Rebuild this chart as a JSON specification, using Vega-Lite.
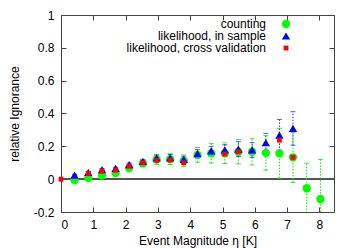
{
  "$schema": "https://vega.github.io/schema/vega-lite/v6.json",
  "width": 273,
  "height": 197,
  "autosize": "none",
  "padding": {"left": 61, "top": 15, "right": 20, "bottom": 36},
  "background": "white",
  "config": {
    "font": "Liberation Sans",
    "view": {"stroke": null},
    "axis": {
      "grid": false,
      "domainColor": "#444",
      "tickColor": "#444",
      "tickSize": -5,
      "labelFontSize": 12,
      "labelColor": "#000",
      "titleFontSize": 12,
      "titleFontWeight": "normal",
      "titleColor": "#000",
      "labelPadding": 12
    },
    "legend": {
      "labelFontSize": 12,
      "labelColor": "#000",
      "labelAlign": "right",
      "labelOffset": -26,
      "padding": 0,
      "rowPadding": 0,
      "symbolStrokeWidth": 0
    }
  },
  "data": {
    "values": [
      {"s": "counting", "x": 0.42, "y": -0.005, "lo": -0.009, "hi": -0.001},
      {"s": "counting", "x": 0.845, "y": 0.007, "lo": 0.001, "hi": 0.013},
      {"s": "counting", "x": 1.27, "y": 0.024, "lo": 0.014, "hi": 0.034},
      {"s": "counting", "x": 1.69, "y": 0.037, "lo": 0.024, "hi": 0.05},
      {"s": "counting", "x": 2.11, "y": 0.068, "lo": 0.05, "hi": 0.086},
      {"s": "counting", "x": 2.535, "y": 0.097, "lo": 0.075, "hi": 0.119},
      {"s": "counting", "x": 2.96, "y": 0.12, "lo": 0.09, "hi": 0.15},
      {"s": "counting", "x": 3.38, "y": 0.122, "lo": 0.089, "hi": 0.155},
      {"s": "counting", "x": 3.8, "y": 0.113, "lo": 0.078, "hi": 0.148},
      {"s": "counting", "x": 4.225, "y": 0.148, "lo": 0.103, "hi": 0.193},
      {"s": "counting", "x": 4.65, "y": 0.158, "lo": 0.098, "hi": 0.218},
      {"s": "counting", "x": 5.07, "y": 0.158, "lo": 0.095, "hi": 0.221},
      {"s": "counting", "x": 5.49, "y": 0.167, "lo": 0.093, "hi": 0.241},
      {"s": "counting", "x": 5.915, "y": 0.167, "lo": 0.087, "hi": 0.247},
      {"s": "counting", "x": 6.34, "y": 0.16, "lo": 0.055, "hi": 0.265},
      {"s": "counting", "x": 6.76, "y": 0.158, "lo": 0.006, "hi": 0.31},
      {"s": "counting", "x": 7.18, "y": 0.133, "lo": -0.02, "hi": 0.286},
      {"s": "counting", "x": 7.605, "y": -0.055, "lo": -0.207, "hi": 0.097},
      {"s": "counting", "x": 8.03, "y": -0.121, "lo": -0.363, "hi": 0.121},
      {"s": "likelihood, in sample", "x": 0.42, "y": 0.025, "lo": 0.021, "hi": 0.029},
      {"s": "likelihood, in sample", "x": 0.845, "y": 0.042, "lo": 0.037, "hi": 0.047},
      {"s": "likelihood, in sample", "x": 1.27, "y": 0.058, "lo": 0.052, "hi": 0.064},
      {"s": "likelihood, in sample", "x": 1.69, "y": 0.065, "lo": 0.057, "hi": 0.073},
      {"s": "likelihood, in sample", "x": 2.11, "y": 0.088, "lo": 0.078, "hi": 0.098},
      {"s": "likelihood, in sample", "x": 2.535, "y": 0.108, "lo": 0.096, "hi": 0.12},
      {"s": "likelihood, in sample", "x": 2.96, "y": 0.13, "lo": 0.114, "hi": 0.146},
      {"s": "likelihood, in sample", "x": 3.38, "y": 0.13, "lo": 0.11, "hi": 0.15},
      {"s": "likelihood, in sample", "x": 3.8, "y": 0.12, "lo": 0.1, "hi": 0.14},
      {"s": "likelihood, in sample", "x": 4.225, "y": 0.155, "lo": 0.13, "hi": 0.18},
      {"s": "likelihood, in sample", "x": 4.65, "y": 0.172, "lo": 0.144, "hi": 0.2},
      {"s": "likelihood, in sample", "x": 5.07, "y": 0.178, "lo": 0.146, "hi": 0.21},
      {"s": "likelihood, in sample", "x": 5.49, "y": 0.183, "lo": 0.138, "hi": 0.228},
      {"s": "likelihood, in sample", "x": 5.915, "y": 0.178, "lo": 0.133, "hi": 0.223},
      {"s": "likelihood, in sample", "x": 6.34, "y": 0.222, "lo": 0.165, "hi": 0.279},
      {"s": "likelihood, in sample", "x": 6.76, "y": 0.268, "lo": 0.172, "hi": 0.364},
      {"s": "likelihood, in sample", "x": 7.18, "y": 0.309, "lo": 0.207, "hi": 0.411},
      {"s": "likelihood, cross validation", "x": 0, "y": 0},
      {"s": "likelihood, cross validation", "x": 0.845, "y": 0.035},
      {"s": "likelihood, cross validation", "x": 1.27, "y": 0.05},
      {"s": "likelihood, cross validation", "x": 1.69, "y": 0.055},
      {"s": "likelihood, cross validation", "x": 2.11, "y": 0.08},
      {"s": "likelihood, cross validation", "x": 2.535, "y": 0.1},
      {"s": "likelihood, cross validation", "x": 2.96, "y": 0.115},
      {"s": "likelihood, cross validation", "x": 3.38, "y": 0.117},
      {"s": "likelihood, cross validation", "x": 3.8, "y": 0.1},
      {"s": "likelihood, cross validation", "x": 5.07, "y": 0.153},
      {"s": "likelihood, cross validation", "x": 5.49, "y": 0.167},
      {"s": "likelihood, cross validation", "x": 6.76, "y": 0.238},
      {"s": "likelihood, cross validation", "x": 7.18, "y": 0.133}
    ]
  },
  "resolve": {"axis": {"x": "independent", "y": "independent"}},
  "layer": [
    {
      "mark": {"type": "rule", "color": "#555", "strokeWidth": 1},
      "encoding": {
        "y": {"datum": 0, "type": "quantitative", "scale": {"domain": [-0.2, 1], "nice": false, "zero": false},
              "axis": {"orient": "left", "title": "relative Ignorance", "values": [-0.2, 0, 0.2, 0.4, 0.6, 0.8, 1],
                       "format": "~g", "labelExpr": "replace(datum.label, '\u2212', '-')", "titlePadding": 12}}
      }
    },
    {
      "transform": [{"filter": "isValid(datum.lo)"}],
      "mark": {"type": "rule", "strokeWidth": 1, "strokeDash": [1.5, 1.5], "clip": true},
      "encoding": {
        "x": {"field": "x", "type": "quantitative", "scale": {"domain": [0, 8.45], "nice": false, "zero": false},
              "axis": {"orient": "bottom", "title": "Event Magnitude η [K]", "values": [0, 1, 2, 3, 4, 5, 6, 7, 8], "titlePadding": 5}},
        "y": {"field": "lo", "type": "quantitative", "axis": null},
        "y2": {"field": "hi"},
        "color": {"condition": {"test": "datum.s === 'counting'", "value": "#00ee00"}, "value": "#3030ff"}
      }
    },
    {
      "transform": [{"filter": "isValid(datum.lo)"}],
      "mark": {"type": "tick", "orient": "horizontal", "size": 5, "thickness": 1, "clip": true, "opacity": 0.8},
      "encoding": {
        "x": {"field": "x", "type": "quantitative", "axis": null},
        "y": {"field": "lo", "type": "quantitative", "axis": null},
        "color": {"condition": {"test": "datum.s === 'counting'", "value": "#00ee00"}, "value": "#3030ff"}
      }
    },
    {
      "transform": [{"filter": "isValid(datum.hi)"}],
      "mark": {"type": "tick", "orient": "horizontal", "size": 5, "thickness": 1, "clip": true, "opacity": 0.8},
      "encoding": {
        "x": {"field": "x", "type": "quantitative", "axis": null},
        "y": {"field": "hi", "type": "quantitative", "axis": null},
        "color": {"condition": {"test": "datum.s === 'counting'", "value": "#00ee00"}, "value": "#3030ff"}
      }
    },
    {
      "mark": {"type": "point", "filled": true, "opacity": 1},
      "encoding": {
        "x": {"field": "x", "type": "quantitative", "axis": {"orient": "top", "labels": false, "title": null, "values": [0, 1, 2, 3, 4, 5, 6, 7, 8]}},
        "y": {"field": "y", "type": "quantitative", "axis": {"orient": "right", "labels": false, "title": null, "values": [-0.2, 0, 0.2, 0.4, 0.6, 0.8, 1]}},
        "color": {"field": "s", "type": "nominal",
                  "scale": {"domain": ["counting", "likelihood, in sample", "likelihood, cross validation"], "range": ["#00ff00", "#0000ff", "#ff0000"]},
                  "legend": {"title": null, "orient": "none", "legendX": 219, "legendY": 3}},
        "shape": {"field": "s", "type": "nominal",
                  "scale": {"domain": ["counting", "likelihood, in sample", "likelihood, cross validation"], "range": ["circle", "triangle-up", "square"]}},
        "size": {"field": "s", "type": "nominal",
                 "scale": {"type": "ordinal", "domain": ["counting", "likelihood, in sample", "likelihood, cross validation"], "range": [70, 70, 24]}}
      }
    }
  ]
}
